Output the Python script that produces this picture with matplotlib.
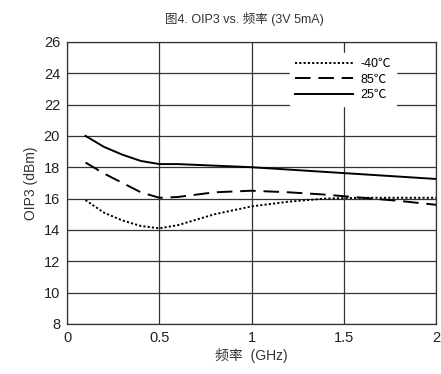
import matplotlib.pyplot as plt

plt.rcParams['font.family'] = ['Liberation Sans', 'Noto Sans CJK SC', 'DejaVu Sans']

freq = [0.1, 0.2, 0.3, 0.4, 0.5, 0.6, 0.8, 1.0, 1.2, 1.4, 1.6, 1.8, 2.0]
oip3_m40 = [15.9, 15.1, 14.6, 14.25, 14.1, 14.3, 15.0, 15.5, 15.8, 16.0, 16.05, 16.05, 16.05]
oip3_85 = [18.3, 17.6, 17.0, 16.4, 16.05, 16.1, 16.4, 16.5, 16.4, 16.25, 16.05, 15.85, 15.6]
oip3_25 = [20.0, 19.3, 18.8, 18.4, 18.2, 18.2, 18.1, 18.0, 17.85, 17.7, 17.55, 17.4, 17.25]

fig = plt.figure(figsize=(4.41, 3.74), dpi=100)
ax = fig.add_axes([0.152, 0.134, 0.837, 0.754])

ax.plot(freq, oip3_m40, color='black', lw=1.4, linestyle=(0, (1.1, 1.1)), label='-40\u2103')
ax.plot(freq, oip3_85, color='black', lw=1.4, linestyle=(0, (8, 4)), label='85\u2103')
ax.plot(freq, oip3_25, color='black', lw=1.4, label='25\u2103')

ax.set_xlim(0, 2)
ax.set_ylim(8, 26)
ax.set_xticks([0, 0.5, 1, 1.5, 2])
ax.set_xticklabels(['0', '0.5', '1', '1.5', '2'])
ax.set_yticks(range(8, 27, 2))
ax.tick_params(length=0, labelsize=10.5, pad=5, colors='#222222')
ax.grid(True, color='#333333', lw=0.9)
for s in ax.spines.values():
    s.set_color('#333333')
    s.set_linewidth(0.9)

ax.set_xlabel('频率  (GHz)', fontsize=10, color='#333333', labelpad=2)
ax.set_ylabel('OIP3 (dBm)', fontsize=10, color='#333333', labelpad=4)
fig.text(0.555, 0.95, '图4. OIP3 vs. 频率 (3V 5mA)', ha='center', va='center', fontsize=9, color='#333333')

leg = ax.legend(loc='upper right', bbox_to_anchor=(0.89, 0.96), frameon=True, fontsize=9,
                handlelength=4.6, handletextpad=0.6, labelspacing=0.28, borderpad=0.4,
                borderaxespad=0)
leg.get_frame().set_edgecolor('white')
leg.get_frame().set_facecolor('white')
leg.get_frame().set_alpha(1)

fig.savefig('out.png', dpi=100)
